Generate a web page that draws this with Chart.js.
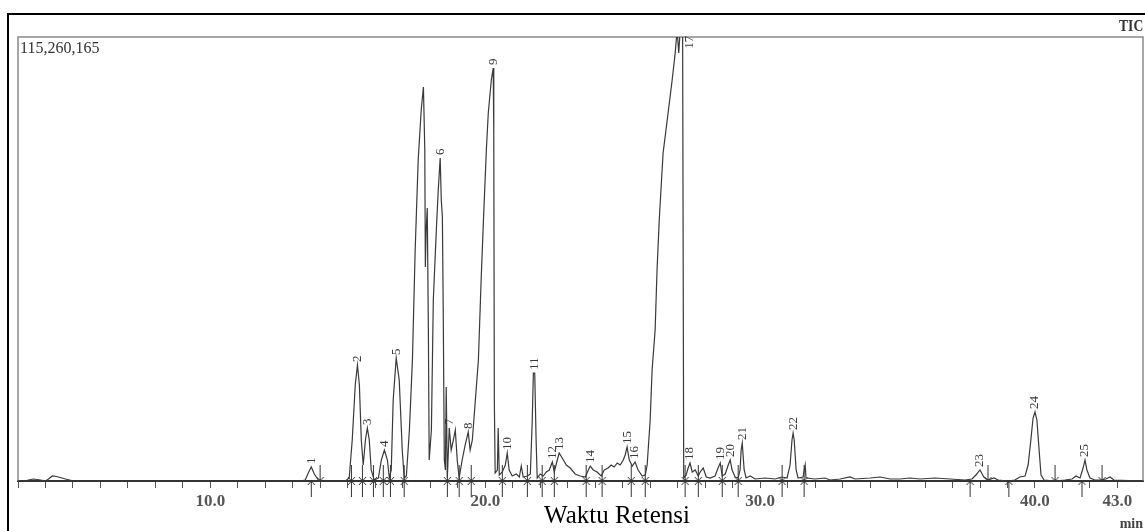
<!DOCTYPE html>
<html lang="id">
<head>
<meta charset="UTF-8">
<title>TIC Kromatogram</title>
<script src="https://cdn.jsdelivr.net/npm/chart.js"></script>
<style>
  body { margin: 0; background: #fff; }
  #wrap { position: relative; width: 1145px; height: 531px; overflow: hidden; }
  #frame { position: absolute; left: 7px; top: 13px; right: -5px; bottom: -5px;
           border-left: 2px solid #000; border-top: 2px solid #000; pointer-events: none; }
  .lbl { position: absolute; font-family: "Liberation Serif", serif; white-space: nowrap; line-height: 1; }
  #maxv { left: 20px; top: 40px; font-size: 16px; color: #333; }
  #ticLbl { right: 2px; top: 17px; font-size: 17px; font-weight: bold; color: #333;
            transform: scaleX(0.8); transform-origin: right center; }
  #xtitle { left: 617px; top: 502px; font-size: 25px; color: #000; transform: translateX(-50%); }
  #unit { right: 2px; top: 517px; font-size: 14px; font-weight: bold; color: #444; }
</style>
</head>
<body>
<div id="wrap">
  <canvas id="ticChart" width="1145" height="531"></canvas>
  <div id="frame"></div>
  <div class="lbl" id="maxv">115,260,165</div>
  <div class="lbl" id="ticLbl">TIC</div>
  <div class="lbl" id="xtitle">Waktu Retensi</div>
  <div class="lbl" id="unit">min</div>
</div>
<script>
// retention time (min) and TIC intensity (millions of counts)
const retTime = [
  3.00,3.25,3.38,3.56,3.82,4.00,4.11,4.25,4.40,4.73,
  5.02,9.64,13.27,13.45,13.56,13.67,13.78,13.93,14.07,14.91,
  15.05,15.16,15.27,15.35,15.42,15.49,15.56,15.64,15.71,15.78,
  15.85,15.96,16.11,16.22,16.33,16.44,16.51,16.58,16.65,16.76,
  16.87,16.98,17.05,17.13,17.24,17.35,17.45,17.56,17.67,17.75,
  17.80,17.82,17.85,17.89,17.93,17.96,18.04,18.11,18.22,18.29,
  18.36,18.40,18.44,18.47,18.51,18.55,18.58,18.62,18.69,18.76,
  18.84,18.91,18.98,19.05,19.16,19.27,19.38,19.45,19.53,19.64,
  19.75,19.85,19.93,20.04,20.11,20.22,20.29,20.31,20.33,20.36,
  20.44,20.47,20.51,20.62,20.73,20.80,20.87,20.98,21.13,21.24,
  21.31,21.38,21.53,21.64,21.71,21.75,21.80,21.85,21.89,22.00,
  22.11,22.22,22.33,22.44,22.51,22.62,22.69,22.80,22.95,23.09,
  23.27,23.45,23.64,23.75,23.82,23.93,24.07,24.22,24.33,24.47,
  24.58,24.69,24.80,24.91,25.02,25.09,25.16,25.24,25.35,25.45,
  25.56,25.71,25.82,25.89,26.00,26.07,26.18,26.25,26.33,26.47,
  26.62,26.80,26.91,26.98,27.04,27.09,27.18,27.22,27.31,27.38,
  27.45,27.53,27.64,27.75,27.82,27.93,28.04,28.18,28.36,28.47,
  28.55,28.62,28.73,28.84,28.91,28.98,29.09,29.20,29.27,29.31,
  29.35,29.38,29.42,29.49,29.64,29.82,30.18,30.55,30.80,30.98,
  31.09,31.16,31.20,31.24,31.31,31.38,31.56,31.64,31.67,32.00,
  32.36,32.55,32.91,33.27,33.45,34.00,34.36,34.73,35.09,35.45,
  35.82,36.36,36.91,37.45,37.71,37.85,38.00,38.14,38.29,38.51,
  38.66,39.02,39.27,39.45,39.64,39.75,39.85,39.93,40.00,40.07,
  40.15,40.22,40.33,40.73,41.09,41.35,41.49,41.64,41.75,41.82,
  41.89,42.00,42.18,42.36,42.58,42.73,42.87,43.93
];
const intensity = [
  0,0,0.26,0.52,0.26,0,0.52,1.30,1.17,0.52,
  0,0,0,0.26,2.08,3.63,1.82,0.26,0,0,
  0.78,10.64,24.92,30.11,24.92,10.64,4.15,10.64,13.76,10.64,
  2.86,0.26,0.78,5.45,8.05,5.45,0.78,2.86,21.03,31.93,
  26.22,8.05,0.78,1.30,13.24,31.41,59.97,83.33,96.31,102.28,
  85.93,55.55,65.16,70.87,39.20,5.45,13.24,46.99,65.16,75.54,
  83.85,72.95,68.53,44.91,5.45,2.86,24.40,0.78,13.76,8.05,
  10.64,13.24,5.45,0.78,5.45,9.35,12.72,8.05,10.64,21.03,
  31.41,52.18,66.98,85.93,95.53,104.10,107.21,90.00,21.03,2.08,
  2.86,13.76,1.56,2.34,4.15,7.27,2.86,1.30,1.82,1.04,
  3.89,1.04,1.30,1.82,15.84,28.04,28.04,10.64,0.78,1.82,
  1.30,2.34,2.86,4.93,2.34,5.45,7.27,5.97,4.15,3.37,
  1.82,1.30,1.04,2.86,3.89,2.86,2.34,1.30,2.86,3.37,
  4.15,3.63,4.67,4.15,5.45,6.75,8.83,5.45,3.89,4.93,
  2.86,1.30,1.56,4.15,15.84,28.82,39.20,54.78,67.76,85.15,
  93.72,104.10,111.11,117.08,111.11,117.08,117.08,0.78,1.56,3.37,
  4.67,2.34,2.86,1.30,2.34,3.37,1.04,0.78,1.30,3.37,
  4.67,1.30,1.82,4.15,5.45,2.86,1.04,0.78,2.86,8.05,
  9.86,6.75,2.86,0.78,1.30,0.52,0.78,0.52,1.04,0.78,
  4.15,10.64,12.46,10.64,2.86,0.78,1.04,4.15,0.78,0.52,
  0.78,0.26,0.52,1.04,0.52,0.78,1.04,0.52,0.52,0.78,
  0.52,0.78,0.52,0.26,0.52,1.56,2.86,1.04,0.26,0.78,
  0.26,0,0.26,1.04,1.30,4.15,10.64,16.35,17.91,15.84,
  8.05,1.56,0.26,0,0.26,0.52,1.30,0.78,3.37,5.45,
  2.86,0.78,0.26,0.26,0.52,1.04,0.26,0
];

// numbered peaks: label, apex time, apex height
const peakNo     = ['1','2','3','4','5','6','7','8','9','10','11','12','13','14','15','16','17','18','19','20','21','22','23','24','25'];
const peakTime   = [13.67,15.35,15.71,16.33,16.76,18.36,18.69,19.38,20.29,20.80,21.78,22.44,22.69,23.82,25.16,25.45,27.42,27.45,28.55,28.91,29.35,31.20,38.00,40.00,41.82];
const peakHeight = [3.63,30.11,13.76,8.05,31.93,83.85,13.76,12.72,107.21,7.27,28.04,4.93,7.27,3.89,8.83,4.93,111.4,4.67,4.67,5.45,9.86,12.46,2.86,17.91,5.45];

// integration marks on the baseline (min)
const startMarks = [13.67,15.13,15.53,15.93,16.29,16.55,17.05,18.62,19.05,19.49,20.62,21.53,22.07,22.51,23.67,24.25,25.31,25.82,27.27,27.75,28.62,29.20,30.80,31.60,37.64,39.05,41.71];
const endMarks   = [13.99,15.13,15.53,15.93,16.29,16.55,17.05,18.62,19.05,19.49,20.62,21.53,22.07,22.51,23.67,24.25,25.31,25.82,27.27,27.75,28.62,29.20,30.80,31.60,38.29,40.73,42.44];

const tickLabels = [10, 20, 30, 40, 43];
const yMax = 115.260165;

function arrowImg(dir) {
  const c = document.createElement('canvas');
  c.width = 9; c.height = 34;
  const g = c.getContext('2d');
  g.strokeStyle = '#333';
  g.lineWidth = 1;
  g.beginPath();
  if (dir === 'up') {
    g.moveTo(4.5, 17); g.lineTo(4.5, 33);
    g.moveTo(1, 21); g.lineTo(4.5, 17); g.lineTo(8, 21);
  } else {
    g.moveTo(4.5, 1); g.lineTo(4.5, 17);
    g.moveTo(1, 13); g.lineTo(4.5, 17); g.lineTo(8, 13);
  }
  g.stroke();
  return c;
}

// grey box round the plot area (left, top, right)
const plotBox = {
  id: 'plotBox',
  beforeDatasetsDraw(chart) {
    const { ctx, chartArea: a } = chart;
    ctx.save();
    ctx.strokeStyle = '#8a8a8a';
    ctx.lineWidth = 1.5;
    ctx.beginPath();
    ctx.moveTo(a.left, a.bottom);
    ctx.lineTo(a.left, a.top);
    ctx.lineTo(a.right, a.top);
    ctx.lineTo(a.right, a.bottom);
    ctx.stroke();
    ctx.restore();
  }
};

const peakLabels = {
  id: 'peakLabels',
  afterDatasetsDraw(chart) {
    const { ctx, scales: { x, y } } = chart;
    ctx.save();
    ctx.fillStyle = '#3a3a3a';
    ctx.font = '13px "Liberation Serif"';
    ctx.textBaseline = 'middle';
    ctx.textAlign = 'left';
    peakNo.forEach((n, i) => {
      const px = x.getPixelForValue(peakTime[i]);
      const py = y.getPixelForValue(peakHeight[i]);
      ctx.save();
      ctx.translate(px, py - 3);
      ctx.rotate(-Math.PI / 2);
      ctx.fillText(n, 0, 0);
      ctx.restore();
    });
    ctx.restore();
  }
};

const ctx = document.getElementById('ticChart').getContext('2d');
new Chart(ctx, {
  type: 'line',
  data: {
    datasets: [
      {
        label: 'TIC',
        data: retTime.map((t, i) => ({ x: t, y: intensity[i] })),
        borderColor: '#3a3a3a',
        borderWidth: 1.2,
        pointRadius: 0,
        tension: 0,
        fill: false
      },
      {
        label: 'start',
        data: startMarks.map(t => ({ x: t, y: 0 })),
        showLine: false,
        pointStyle: arrowImg('up'),
        clip: false
      },
      {
        label: 'end',
        data: endMarks.map(t => ({ x: t, y: 0 })),
        showLine: false,
        pointStyle: arrowImg('down'),
        clip: false
      }
    ]
  },
  options: {
    responsive: false,
    animation: false,
    events: [],
    layout: { autoPadding: false, padding: { left: 18, top: 37, right: 2, bottom: 0 } },
    plugins: { legend: { display: false }, tooltip: { enabled: false } },
    scales: {
      x: {
        type: 'linear',
        min: 3,
        max: 43.93,
        afterFit(s) { s.height = 50; s.paddingLeft = 0; s.paddingRight = 0; },
        border: { display: true, color: '#333', width: 2 },
        grid: { drawOnChartArea: false, drawTicks: true, tickLength: 7, color: '#555' },
        ticks: {
          stepSize: 1,
          autoSkip: false,
          maxRotation: 0,
          minRotation: 0,
          includeBounds: false,
          padding: 3,
          color: '#555',
          font: { family: '"Liberation Serif"', size: 17, weight: 'bold' },
          callback: v => tickLabels.some(t => Math.abs(t - v) < 1e-6) ? v.toFixed(1) : ''
        }
      },
      y: { display: false, min: 0, max: yMax }
    }
  },
  plugins: [plotBox, peakLabels]
});
</script>
</body>
</html>
